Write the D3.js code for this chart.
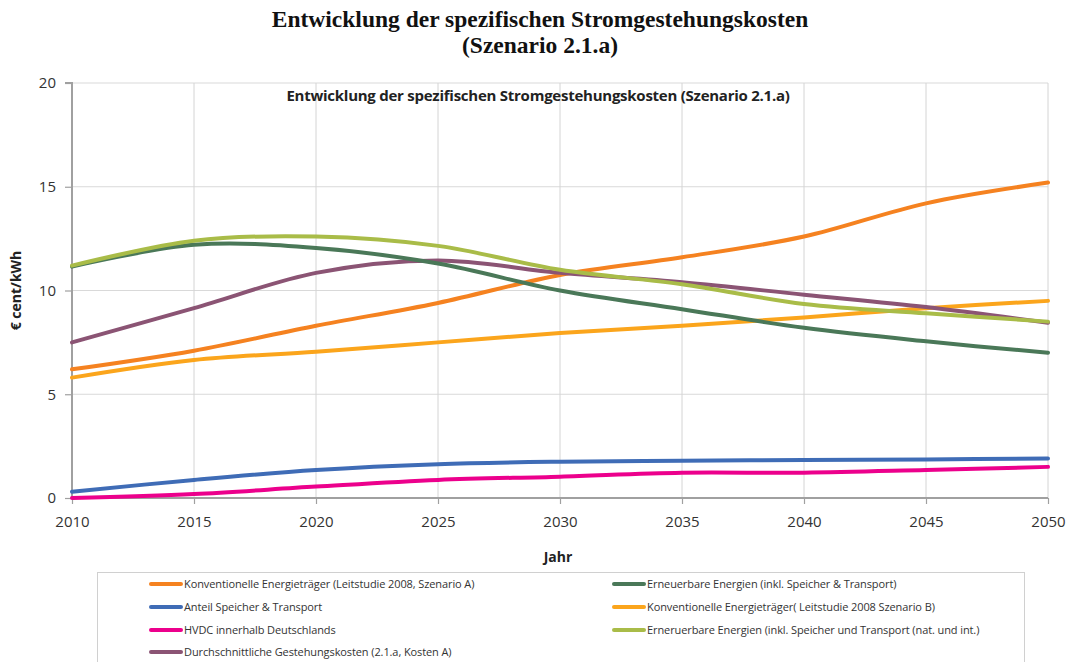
<!DOCTYPE html>
<html>
<head>
<meta charset="utf-8">
<script src="https://cdn.jsdelivr.net/npm/d3@7"></script>
<style>
  html, body { margin: 0; padding: 0; background: #fff; }
  svg { display: block; }
</style>
</head>
<body>
<svg id="chart" width="1071" height="662"></svg>
<script>
// Years on the x axis
const years = [2010, 2015, 2020, 2025, 2030, 2035, 2040, 2045, 2050];

// Cost series, € cent/kWh
const konvA      = [6.2, 7.1, 8.3, 9.4, 10.75, 11.6, 12.6, 14.2, 15.2];
const eeInkl     = [11.15, 12.2, 12.05, 11.3, 10.0, 9.1, 8.2, 7.55, 7.0];
const speicher   = [0.3, 0.87, 1.35, 1.63, 1.75, 1.8, 1.83, 1.86, 1.9];
const konvB      = [5.8, 6.65, 7.05, 7.5, 7.95, 8.3, 8.7, 9.15, 9.5];
const hvdc       = [0.0, 0.19, 0.55, 0.87, 1.03, 1.22, 1.22, 1.35, 1.5];
const eeNatInt   = [11.2, 12.4, 12.6, 12.15, 11.0, 10.3, 9.35, 8.9, 8.5];
const durchschn  = [7.5, 9.15, 10.85, 11.45, 10.85, 10.4, 9.8, 9.2, 8.45];

const yTicks = [0, 5, 10, 15, 20];

const seriesNames = [
  "Konventionelle Energieträger (Leitstudie 2008, Szenario A)",
  "Erneuerbare Energien (inkl. Speicher & Transport)",
  "Anteil Speicher & Transport",
  "Konventionelle Energieträger( Leitstudie 2008 Szenario B)",
  "HVDC innerhalb Deutschlands",
  "Erneruerbare Energien (inkl. Speicher und Transport (nat. und int.)",
  "Durchschnittliche Gestehungskosten (2.1.a, Kosten A)"
];
const seriesColors = ["#f58220", "#4a7858", "#3f6cb6", "#fba51c", "#ec008c", "#a9bc48", "#8b5474"];
const seriesValues = [konvA, eeInkl, speicher, konvB, hvdc, eeNatInt, durchschn];

const series = seriesNames.map((name, i) => ({
  name, color: seriesColors[i], values: seriesValues[i]
}));

const svg = d3.select("#chart");
const sans = "'Open Sans', 'Liberation Sans', sans-serif";

const margin = { left: 72, right: 23, top: 83, bottom: 164 };
const W = 1071, H = 662;
const x = d3.scaleLinear().domain([2010, 2050]).range([margin.left, W - margin.right]);
const y = d3.scaleLinear().domain([0, 20]).range([H - margin.bottom, margin.top]);

// Main title
const serif = "'Liberation Serif', 'Times New Roman', serif";
svg.append("text")
  .attr("x", 540).attr("y", 27)
  .attr("text-anchor", "middle")
  .style("font-family", serif)
  .style("font-weight", "bold").style("font-size", "23.5px").style("fill", "#111")
  .text("Entwicklung der spezifischen Stromgestehungskosten");
svg.append("text")
  .attr("x", 540).attr("y", 53)
  .attr("text-anchor", "middle")
  .style("font-family", serif)
  .style("font-weight", "bold").style("font-size", "23.5px").style("fill", "#111")
  .text("(Szenario 2.1.a)");

// Gridlines
const grid = svg.append("g");
grid.selectAll("line.h").data(yTicks.filter(d => d > 0)).join("line")
  .attr("x1", x(2010)).attr("x2", x(2050))
  .attr("y1", d => y(d)).attr("y2", d => y(d))
  .attr("stroke", "#d9d9d9").attr("stroke-width", 1);
grid.selectAll("line.v").data(years.slice(1)).join("line")
  .attr("x1", d => x(d)).attr("x2", d => x(d))
  .attr("y1", y(20)).attr("y2", y(0))
  .attr("stroke", "#d4d4d4").attr("stroke-width", 1);

// Inner chart title
svg.append("text")
  .attr("x", 538).attr("y", 101)
  .attr("text-anchor", "middle")
  .style("font-family", sans)
  .style("font-weight", "bold").style("font-size", "15px").style("fill", "#222")
  .style("letter-spacing", "-0.25px")
  .text("Entwicklung der spezifischen Stromgestehungskosten (Szenario 2.1.a)");

// Axes
const xAxis = d3.axisBottom(x).tickValues(years).tickFormat(d3.format("d")).tickSize(6).tickPadding(12);
const yAxis = d3.axisLeft(y).tickValues(yTicks).tickSize(7).tickPadding(9);

const gx = svg.append("g").attr("transform", `translate(0,${y(0)})`).call(xAxis);
const gy = svg.append("g").attr("transform", `translate(${x(2010)},0)`).call(yAxis);
[gx, gy].forEach(g => {
  g.select(".domain").attr("stroke", "#a0a0a0").attr("stroke-width", 2);
  g.selectAll(".tick line").attr("stroke", "#a0a0a0").attr("stroke-width", 1.2);
  g.selectAll(".tick text")
    .style("font-family", sans).style("font-size", "15px").style("fill", "#333");
});
gy.select(".domain").attr("d", `M-7,${y(20)}H0V${y(0)}`);
gx.select(".domain").attr("d", `M0,0H${x(2050) - x(2010)}`).attr("transform", `translate(${x(2010)},0)`);
gx.selectAll(".tick line").attr("y1", 0);

// Axis titles
svg.append("text")
  .attr("x", 558).attr("y", 562).attr("text-anchor", "middle")
  .style("font-family", sans).style("font-weight", "bold").style("font-size", "14px").style("fill", "#222")
  .text("Jahr");
svg.append("text")
  .attr("transform", `translate(21,${y(10)}) rotate(-90)`)
  .attr("text-anchor", "middle")
  .style("font-family", sans).style("font-weight", "bold").style("font-size", "14px").style("fill", "#222")
  .text("€ cent/kWh");

// Series lines
const line = d3.line()
  .x((d, i) => x(years[i]))
  .y(d => y(d))
  .curve(d3.curveCardinal.tension(0));

const drawOrder = [4, 2, 3, 0, 6, 1, 5];
svg.append("g").selectAll("path").data(drawOrder.map(i => series[i])).join("path")
  .attr("d", d => line(d.values))
  .attr("fill", "none")
  .attr("stroke", d => d.color)
  .attr("stroke-width", 4)
  .attr("stroke-linecap", "round")
  .attr("stroke-linejoin", "round");

// Legend
const legend = svg.append("g");
legend.append("rect")
  .attr("x", 97.5).attr("y", 572.5).attr("width", 927).attr("height", 100)
  .attr("fill", "#fff").attr("stroke", "#d0d0d0").attr("stroke-width", 1);

const colLayout = [
  { idx: [0, 2, 4, 6], x: 151 },
  { idx: [1, 3, 5], x: 614 }
];
const rowY = [584, 607, 630, 652];
colLayout.forEach(col => {
  col.idx.forEach((si, r) => {
    const s = series[si];
    const g = legend.append("g").attr("transform", `translate(${col.x},${rowY[r]})`);
    g.append("line").attr("x1", 0).attr("x2", 30).attr("y1", 0).attr("y2", 0)
      .attr("stroke", s.color).attr("stroke-width", 4).attr("stroke-linecap", "round");
    g.append("text").attr("x", 33).attr("y", 4)
      .style("font-family", sans).style("font-size", "11px").style("fill", "#333")
      .style("letter-spacing", "-0.1px")
      .text(s.name);
  });
});
</script>
</body>
</html>
